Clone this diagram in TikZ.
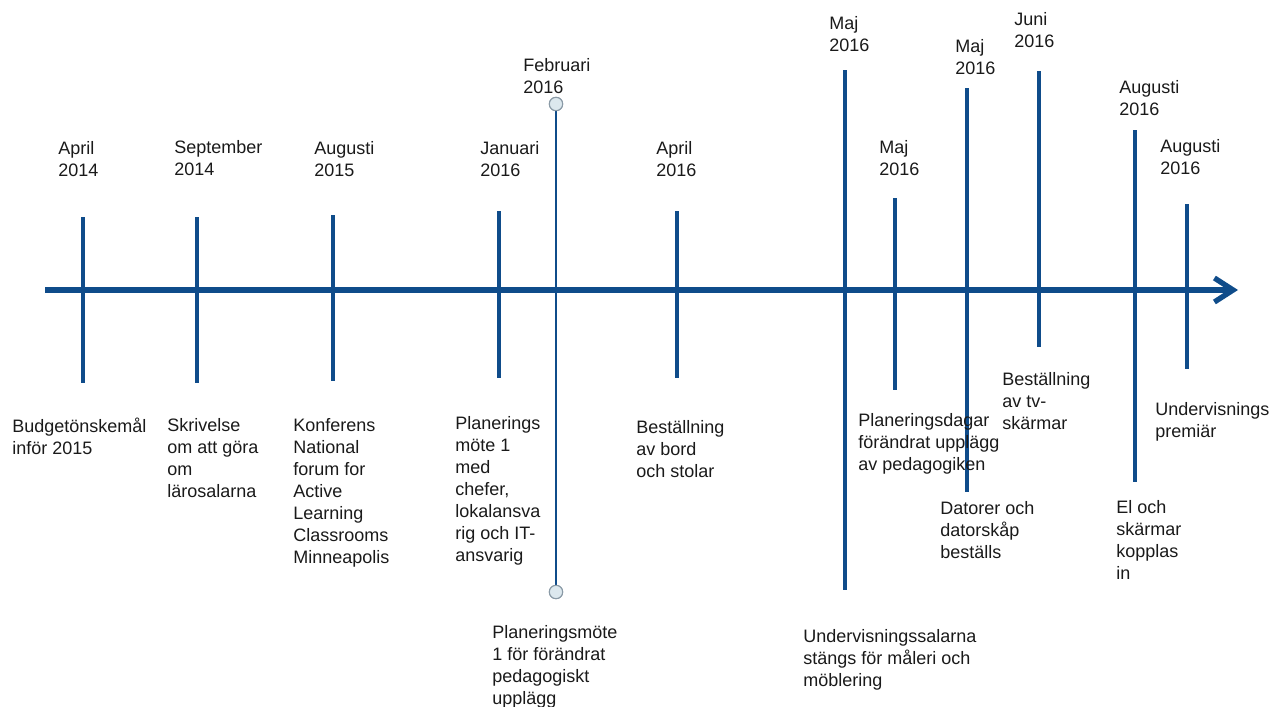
\documentclass[tikz,border=0pt]{standalone}
\usepackage{fontspec}
\setmainfont{Liberation Sans}
\usetikzlibrary{arrows.meta}
\definecolor{axisblue}{HTML}{0F4C8A}
\definecolor{txt}{HTML}{1A1A1A}
\definecolor{dotfill}{HTML}{DCE8EE}
\definecolor{dotline}{HTML}{8A9AA6}
\begin{document}
\begin{tikzpicture}[x=0.75pt,y=-0.75pt,
  lab/.style={anchor=north west,inner sep=0pt,align=left,text=txt,
    font=\fontsize{13.5}{16.5}\selectfont},
  tickline/.style={draw=axisblue,line width=3pt},
  thinline/.style={draw=axisblue,line width=2.2pt},
  axisline/.style={draw=axisblue,line width=4pt,
    -{Straight Barb[length=14pt,width=18pt,line width=4pt]}},
  dot/.style={circle,draw=dotline,fill=dotfill,line width=0.8pt,minimum size=10pt,inner sep=0pt}]
\useasboundingbox (0,0) rectangle (1279,707);
% axis
\coordinate (a0) at (45,290);
\coordinate (a1) at (1238,290);
\draw[axisline] (a0) -- (a1);
% ticks
\foreach \n/\x/\t/\b in {t1/83/217/383, t2/197/217/383, t3/333/215/381, t4/499/211/378,
  t5/677/211/378, t6/845/70/590, t7/895/198/390, t8/967/88/492, t9/1039/71/347,
  t10/1135/130/482, t11/1187/204/369}{
  \coordinate (\n top) at (\x,\t);
  \coordinate (\n bot) at (\x,\b);
  \draw[tickline] (\n top) -- (\n bot);
}
% February line with circles
\node[dot] (ftop) at (556,104) {};
\node[dot] (fbot) at (556,592) {};
\draw[thinline] (ftop) -- (fbot);
\node[dot] at (556,104) {};
\node[dot] at (556,592) {};
% top labels
\node[lab] (l1) at (58,141) {April\\2014};
\node[lab] (l2) at (174,140) {September\\2014};
\node[lab] (l3) at (314,141) {Augusti\\2015};
\node[lab] (l4) at (480,141) {Januari\\2016};
\node[lab] (l5) at (523,58) {Februari\\2016};
\node[lab] (l6) at (656,141) {April\\2016};
\node[lab] (l7) at (829,16) {Maj\\2016};
\node[lab] (l8) at (879,140) {Maj\\2016};
\node[lab] (l9) at (955,39) {Maj\\2016};
\node[lab] (l10) at (1014,12) {Juni\\2016};
\node[lab] (l11) at (1119,80) {Augusti\\2016};
\node[lab] (l12) at (1160,139) {Augusti\\2016};
% bottom labels
\node[lab] (b1) at (12,418) {Budgetönskemål\\inför 2015};
\node[lab] (b2) at (167,418) {Skrivelse\\om att göra\\om\\lärosalarna};
\node[lab] (b3) at (293,418) {Konferens\\National\\forum for\\Active\\Learning\\Classrooms\\Minneapolis};
\node[lab] (b4) at (455,416) {Planerings\\möte 1\\med\\chefer,\\lokalansva\\rig och IT-\\ansvarig};
\node[lab] (b5) at (492,625) {Planeringsmöte\\1 för förändrat\\pedagogiskt\\upplägg};
\node[lab] (b6) at (636,420) {Beställning\\av bord\\och stolar};
\node[lab] (b7) at (803,629) {Undervisningssalarna\\stängs för måleri och\\möblering};
\node[lab] (b8) at (858,413) {Planeringsdagar\\förändrat upplägg\\av pedagogiken};
\node[lab] (b9) at (1002,372) {Beställning\\av tv-\\skärmar};
\node[lab] (b10) at (940,501) {Datorer och\\datorskåp\\beställs};
\node[lab] (b11) at (1116,500) {El och\\skärmar\\kopplas\\in};
\node[lab] (b12) at (1155,402) {Undervisnings\\premiär};
\end{tikzpicture}
\end{document}
